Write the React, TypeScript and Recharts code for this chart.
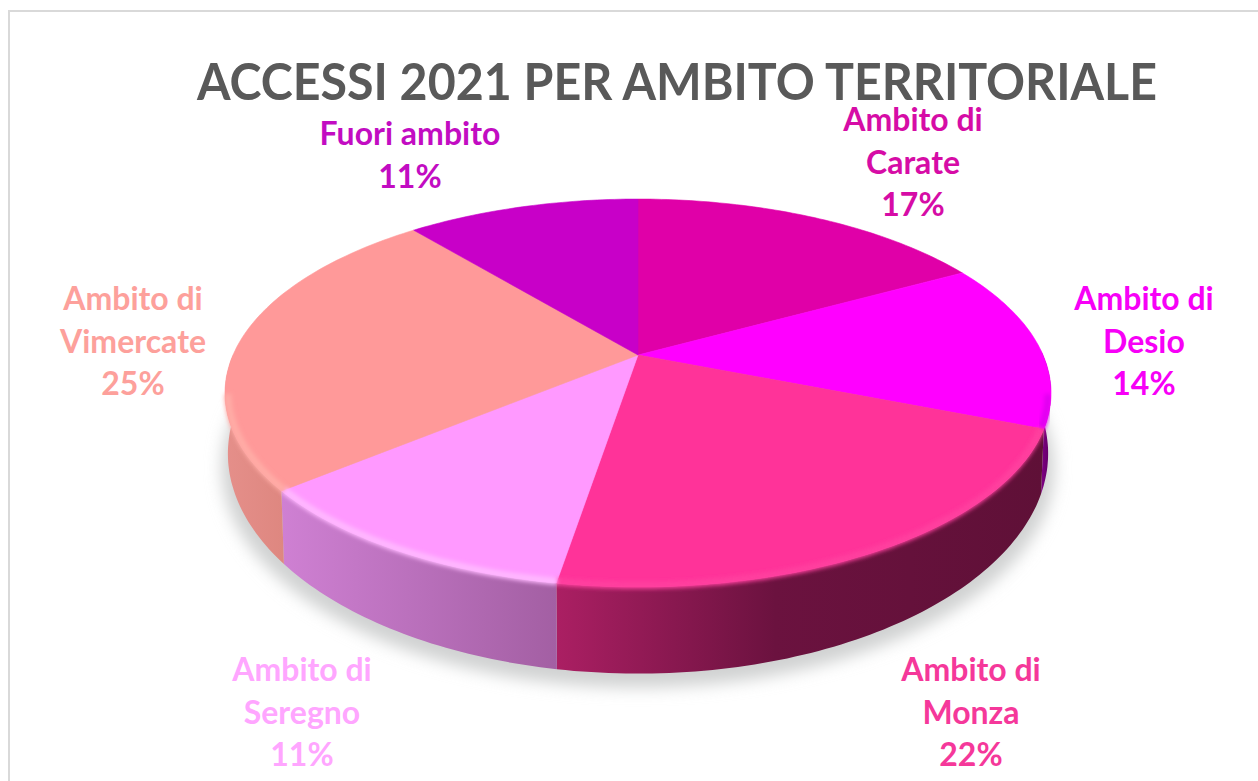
import React from "react";
import { PieChart, Pie } from "recharts";

const CATEGORIES = ["Ambito di|Carate", "Ambito di|Desio", "Ambito di|Monza", "Ambito di|Seregno", "Ambito di|Vimercate", "Fuori ambito"];
const VALUES = [17, 14, 21.6, 11.4, 25, 11];
const TOP_COLORS = ["#e000a8", "#ff00ff", "#ff3399", "#ff99ff", "#ff9999", "#c800c8"];
const LABEL_COLORS = ["#d60ca6", "#f700f7", "#f5389a", "#ffa6ff", "#fda09b", "#c20cc2"];
const RIM_COLORS = ["#e000a8", "#e000f0", "#ff3f9f", "#ffb8ff", "#ffaca6", "#cc00cc"];

const data = CATEGORIES.map((name, i) => ({ name, value: VALUES[i], fill: TOP_COLORS[i] }));
const total = VALUES.reduce((a, b) => a + b, 0);

// label anchors (centre x, first baseline y), same order as the categories
const LABEL_POS = [
  [913, 131],
  [1144, 310],
  [971, 681],
  [302, 681],
  [133, 310],
  [410, 145],
];

const WIDTH = 1258;
const HEIGHT = 781;
const CX = 638;
const CY = 355;
const RADIUS = 405;
const TILT = 0.4605;
const PERSPECTIVE = 0.196;
const DEPTH = 56;
const SHRINK = 0.007;
const RAD = Math.PI / 180;

const project = (cx: number, cy: number, r: number, deg: number) => {
  const x = Math.cos(deg * RAD);
  const y = Math.sin(deg * RAD);
  const den = 1 + PERSPECTIVE * y;
  return { x: cx + (r * x) / den, y: cy - (r * TILT * y) / den, den, front: y };
};

const lower = (cx: number, p: { x: number; y: number; den: number }) => ({
  x: cx + (p.x - cx) * (1 - SHRINK),
  y: p.y + DEPTH / (p.den * p.den),
});

const rimPoints = (props: any, scale = 1) => {
  const { cx, cy, outerRadius, startAngle, endAngle } = props;
  const steps = Math.max(2, Math.ceil(Math.abs(endAngle - startAngle)));
  const pts = [];
  for (let i = 0; i <= steps; i++) {
    pts.push(project(cx, cy, outerRadius * scale, startAngle + ((endAngle - startAngle) * i) / steps));
  }
  return pts;
};

const toPath = (pts: { x: number; y: number }[]) =>
  pts.map((p, i) => `${i ? "L" : "M"}${p.x.toFixed(1)} ${p.y.toFixed(1)}`).join(" ");

const TopSector = (props: any) => {
  const { cx, cy, fill } = props;
  const rim = rimPoints(props);
  return <path d={`M${cx} ${cy} ${toPath(rim).replace("M", "L")} Z`} fill={fill} stroke={fill} strokeWidth={0.6} />;
};

const SideSector = (props: any) => {
  const { cx, index } = props;
  const rim = rimPoints(props).filter((p) => p.front <= 0.02);
  if (rim.length < 2) return null;
  const bottom = rim.map((p) => lower(cx, p)).reverse();
  return <path d={`${toPath(rim)} ${toPath(bottom).replace("M", "L")} Z`} fill={`url(#side${index})`} />;
};

// soft lighter band along the front edge of the top face
const RimSector = (props: any) => {
  const { index } = props;
  const rim = rimPoints(props, 0.993).filter((p) => p.front <= -0.2);
  if (rim.length < 2) return null;
  return (
    <path
      d={toPath(rim)}
      fill="none"
      stroke={RIM_COLORS[index]}
      strokeWidth={7}
      filter="url(#rimBlur)"
    />
  );
};

const ShadowShape = (props: any) => {
  const { cx } = props;
  const loop = rimPoints(props).map((p) => lower(cx, p));
  return (
    <path
      d={`${toPath(loop.map((p) => ({ x: cx + (p.x - cx) * 1.015, y: p.y + 14 })))} Z`}
      fill="#d0d2d2"
      filter="url(#shadowBlur)"
    />
  );
};

const renderLabel = (props: any) => {
  const { index, value } = props;
  const [x, y] = LABEL_POS[index];
  const lines = [...CATEGORIES[index].split("|"), `${Math.round(value)}%`];
  return (
    <text
      key={index}
      x={x}
      y={y}
      textAnchor="middle"
      fontFamily="Lato"
      fontWeight={700}
      fontSize={32}
      fill={LABEL_COLORS[index]}
    >
      {lines.map((line, i) => (
        <tspan key={i} x={x} dy={i ? 42.5 : 0}>
          {line}
        </tspan>
      ))}
    </text>
  );
};

const pieProps = {
  cx: CX,
  cy: CY,
  outerRadius: RADIUS,
  startAngle: 90,
  endAngle: -270,
  dataKey: "value",
  stroke: "none",
  labelLine: false,
  isAnimationActive: false,
};

export default function App() {
  return (
    <div style={{ position: "absolute", left: 0, top: 0, width: WIDTH, height: HEIGHT, overflow: "hidden", background: "#fff" }}>
      <div style={{ position: "absolute", left: 8, top: 10, width: WIDTH, height: HEIGHT, borderLeft: "2px solid #d9d9d9", borderTop: "2px solid #d9d9d9" }} />
      <div style={{ position: "absolute", left: 0, top: 0 }}>
        <PieChart width={WIDTH} height={HEIGHT} margin={{ top: 0, right: 0, bottom: 0, left: 0 }}>
          <defs>
            <filter id="rimBlur" x="-20%" y="-20%" width="140%" height="140%">
              <feGaussianBlur stdDeviation="2.2" />
            </filter>
            <filter id="shadowBlur" x="-10%" y="-10%" width="120%" height="130%">
              <feGaussianBlur stdDeviation="8" />
            </filter>
            <linearGradient id="side0"><stop offset="0" stopColor="#8a0a68" /></linearGradient>
            <linearGradient id="side1">
              <stop offset="0" stopColor="#8a008f" />
              <stop offset="1" stopColor="#5c0060" />
            </linearGradient>
            <linearGradient id="side2">
              <stop offset="0" stopColor="#ab1f63" />
              <stop offset="0.45" stopColor="#6b123f" />
              <stop offset="1" stopColor="#5f1037" />
            </linearGradient>
            <linearGradient id="side3">
              <stop offset="0" stopColor="#cf80d3" />
              <stop offset="1" stopColor="#a35fa3" />
            </linearGradient>
            <linearGradient id="side4">
              <stop offset="0" stopColor="#e58f8a" />
              <stop offset="1" stopColor="#de8780" />
            </linearGradient>
            <linearGradient id="side5"><stop offset="0" stopColor="#8a008a" /></linearGradient>
          </defs>

          <Pie {...pieProps} data={[{ name: "shadow", value: total }]} shape={ShadowShape} />
          <Pie {...pieProps} data={data} shape={SideSector} />
          <Pie {...pieProps} data={data} shape={TopSector} />
          <Pie {...pieProps} data={data} shape={RimSector} label={renderLabel} />

          <text x={677} y={100} textAnchor="middle" fontFamily="Lato" fontWeight={700} fontSize={52} fill="#595959" textLength={960} lengthAdjust="spacingAndGlyphs">
            ACCESSI 2021 PER AMBITO TERRITORIALE
          </text>
        </PieChart>
      </div>
    </div>
  );
}
